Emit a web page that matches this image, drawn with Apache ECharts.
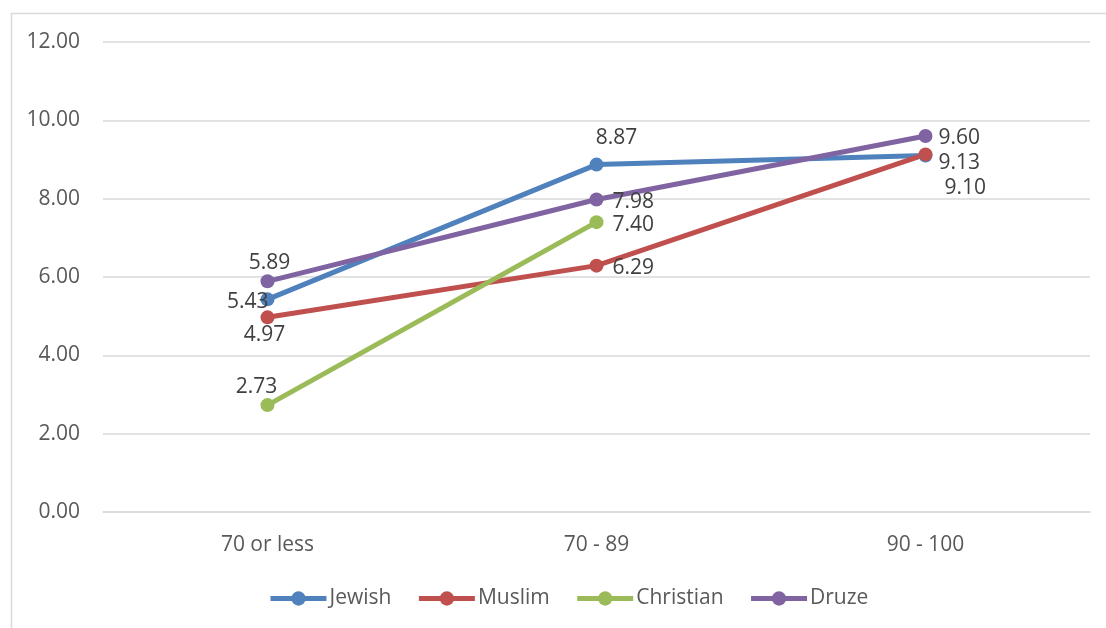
<!DOCTYPE html>
<html>
<head>
<meta charset="utf-8">
<script src="https://cdn.jsdelivr.net/npm/echarts@6/dist/echarts.min.js"></script>
<style>
  html, body { margin: 0; padding: 0; background: #ffffff; }
  #chart { width: 1106px; height: 628px; }
</style>
</head>
<body>
<div id="chart"></div>
<script>
// Grade bands along the x axis
const categories = ['70 or less', '70 - 89', '90 - 100'];

// Values per group
const jewish = [5.43, 8.87, 9.10];
const muslim = [4.97, 6.29, 9.13];
const christian = [2.73, 7.40, null];
const druze = [5.89, 7.98, 9.60];

// Y axis ticks
const yTicks = [0, 2, 4, 6, 8, 10, 12];

const FONT = 'Open Sans';
const FONT_SIZE = 21;
const labelColor = '#404040';

// Per-point label placement (position + pixel offset)
const labelPlacement = {
  Jewish:    [{ position: 'left', offset: [13, 3] }, { position: 'top', offset: [20, -4] }, { position: 'right', offset: [7, 32] }],
  Muslim:    [{ position: 'bottom', offset: [-3, -5] }, { position: 'right', offset: [4, 2] }, { position: 'right', offset: [1, 9] }],
  Christian: [{ position: 'top', offset: [-11, 4] }, { position: 'right', offset: [4, 3] }, null],
  Druze:     [{ position: 'top', offset: [2, 4] }, { position: 'right', offset: [4, 3] }, { position: 'right', offset: [1, 2] }]
};

function makeSeries(name, values, color) {
  return {
    name: name,
    type: 'line',
    data: values.map((v, i) => {
      const p = labelPlacement[name][i];
      return {
        value: v,
        label: p ? { position: p.position, offset: p.offset } : { show: false }
      };
    }),
    symbol: 'circle',
    symbolSize: 14,
    showAllSymbol: true,
    connectNulls: false,
    lineStyle: { color: color, width: 5 },
    itemStyle: { color: color },
    emphasis: { disabled: true },
    label: {
      show: true,
      color: labelColor,
      fontFamily: FONT,
      fontSize: FONT_SIZE,
      distance: 5,
      formatter: p => p.value == null ? '' : Number(p.value).toFixed(2)
    },
    animation: false
  };
}

const chart = echarts.init(document.getElementById('chart'), null, { renderer: 'canvas' });

chart.setOption({
  backgroundColor: '#ffffff',
  animation: false,
  graphic: [{
    type: 'rect',
    left: 9,
    top: 11,
    shape: { width: 1200, height: 700 },
    style: { fill: 'none', stroke: '#d9d9d9', lineWidth: 1.5 },
    silent: true,
    z: -10
  }],
  grid: { left: 103, right: 16, top: 42, bottom: 116, containLabel: false },
  legend: {
    data: ['Jewish', 'Muslim', 'Christian', 'Druze'],
    bottom: 14,
    left: 263,
    itemWidth: 56,
    itemHeight: 18,
    itemGap: 25,
    lineStyle: { width: 5 },
    textStyle: { color: '#595959', fontFamily: FONT, fontSize: FONT_SIZE, padding: [0, 0, 0, -2] }
  },
  xAxis: {
    type: 'category',
    data: categories,
    boundaryGap: true,
    axisLine: { show: true, lineStyle: { color: '#d9d9d9', width: 1.5 } },
    axisTick: { show: false },
    axisLabel: { color: '#595959', fontFamily: FONT, fontSize: FONT_SIZE, margin: 23 },
    splitLine: { show: false }
  },
  yAxis: {
    type: 'value',
    min: yTicks[0],
    max: yTicks[yTicks.length - 1],
    interval: yTicks[1] - yTicks[0],
    axisLine: { show: false },
    axisTick: { show: false },
    axisLabel: {
      color: '#595959', fontFamily: FONT, fontSize: FONT_SIZE, margin: 23,
      formatter: v => v.toFixed(2)
    },
    splitLine: { show: true, lineStyle: { color: '#d9d9d9', width: 1.5 } }
  },
  series: [
    makeSeries('Jewish', jewish, '#4f81bd'),
    makeSeries('Muslim', muslim, '#c0504d'),
    makeSeries('Christian', christian, '#9bbb59'),
    makeSeries('Druze', druze, '#8064a2')
  ]
});
</script>
</body>
</html>
